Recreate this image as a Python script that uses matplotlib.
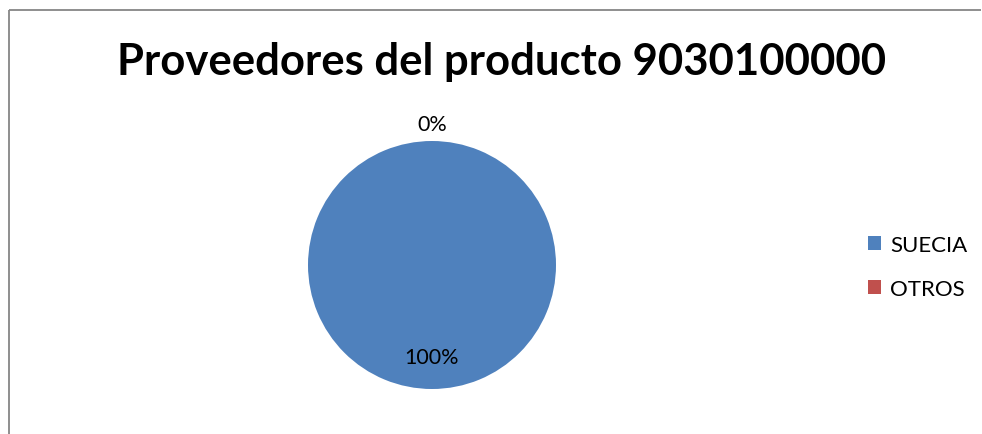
import numpy as np
from matplotlib import pyplot as plt
from matplotlib.lines import Line2D
from matplotlib.patches import Patch

# data
paises = ['SUECIA', 'OTROS']
porcentajes = [100, 0]
colores = ['#4F81BD', '#C0504D']
titulo = 'Proveedores del producto 9030100000'

plt.rcParams['font.family'] = ['Lato', 'DejaVu Sans']

W, H = 982, 435
fig = plt.figure(figsize=(W / 100, H / 100), dpi=100)

# chart border (only left and top visible in the crop)
bx, by = 8.5 / W, 1 - 10.5 / H
fig.add_artist(Line2D([bx, bx], [0, by], transform=fig.transFigure,
                      color='#868686', lw=1.3, solid_capstyle='butt'))
fig.add_artist(Line2D([bx, 981 / W], [by, by], transform=fig.transFigure,
                      color='#868686', lw=1.3, solid_capstyle='butt'))

# pie axes: centre (432, 266) px, radius 124 px
cx, cy, r = 432, 266, 124
ax = fig.add_axes([(cx - r) / W, (H - cy - r) / H, 2 * r / W, 2 * r / H])
wedges, _ = ax.pie(porcentajes, colors=colores, startangle=90, counterclock=False,
                   radius=1.0)
ax.set_xlim(-1, 1)
ax.set_ylim(-1, 1)
ax.set_aspect('equal')

total = sum(porcentajes)
for w, v in zip(wedges, porcentajes):
    ang = np.deg2rad((w.theta1 + w.theta2) / 2)
    d = 0.74 if v > 0 else 1.14
    ax.text(d * np.cos(ang), d * np.sin(ang), f'{round(100 * v / total)}%',
            ha='center', va='center', fontsize=15.5, color='black', clip_on=False)

fig.text(0.511, 1 - 62 / H, titulo, ha='center', va='center',
         fontsize=31.4, fontweight='bold')

handles = [Patch(facecolor=c, edgecolor='none') for c in colores]
fig.legend(handles, paises, loc='center left', bbox_to_anchor=(868 / W, 1 - 268 / H),
           frameon=False, fontsize=16, handlelength=0.6, handleheight=0.6,
           handletextpad=0.4, labelspacing=1.1, borderpad=0, borderaxespad=0)

fig.savefig('out.png', dpi=100, facecolor='white')
